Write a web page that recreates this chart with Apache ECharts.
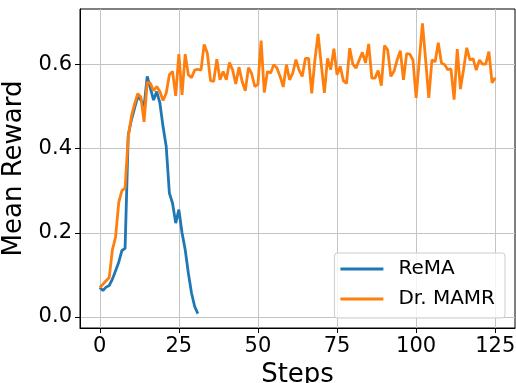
<!DOCTYPE html>
<html>
<head>
<meta charset="utf-8">
<script src="https://cdn.jsdelivr.net/npm/echarts@6/dist/echarts.min.js"></script>
<style>
  html, body { margin: 0; padding: 0; background: #fff; }
  #chart { width: 516px; height: 383px; }
</style>
</head>
<body>
<div id="chart"></div>
<script>
// 各曲线数据（按 step 0,1,2... 排列）
const remaReward = [
  0.070, 0.063, 0.071, 0.075, 0.090, 0.110, 0.130, 0.158, 0.163, 0.432,
  0.468, 0.496, 0.523, 0.515, 0.500, 0.571, 0.543, 0.515, 0.535, 0.508,
  0.452, 0.405, 0.294, 0.270, 0.223, 0.255, 0.200, 0.160, 0.104, 0.057,
  0.025, 0.008,
];
const mamrReward = [
  0.070, 0.078, 0.086, 0.094, 0.160, 0.190, 0.272, 0.300, 0.306, 0.428,
  0.476, 0.506, 0.530, 0.522, 0.463, 0.557, 0.555, 0.537, 0.547, 0.535,
  0.514, 0.531, 0.575, 0.583, 0.525, 0.624, 0.527, 0.624, 0.575, 0.568,
  0.586, 0.588, 0.586, 0.647, 0.626, 0.561, 0.559, 0.612, 0.563, 0.583,
  0.563, 0.604, 0.586, 0.553, 0.593, 0.559, 0.537, 0.592, 0.578, 0.547,
  0.552, 0.656, 0.533, 0.583, 0.579, 0.599, 0.591, 0.571, 0.546, 0.599,
  0.563, 0.579, 0.611, 0.586, 0.571, 0.614, 0.614, 0.531, 0.610, 0.672,
  0.600, 0.532, 0.614, 0.587, 0.637, 0.575, 0.595, 0.561, 0.554, 0.638,
  0.600, 0.591, 0.610, 0.628, 0.603, 0.648, 0.567, 0.567, 0.585, 0.549,
  0.644, 0.634, 0.571, 0.583, 0.610, 0.632, 0.563, 0.625, 0.624, 0.610,
  0.520, 0.610, 0.697, 0.610, 0.520, 0.610, 0.606, 0.651, 0.603, 0.599,
  0.587, 0.589, 0.516, 0.636, 0.541, 0.588, 0.639, 0.610, 0.613, 0.586,
  0.610, 0.600, 0.600, 0.630, 0.556, 0.568,
];
const xTicks = [0, 25, 50, 75, 100, 125];
const yTicks = [0.0, 0.2, 0.4, 0.6];
const seriesNames = ['ReMA', 'Dr. MAMR'];

const FONT = 'DejaVu Sans';

// step 作为 x 值
function toPoints(arr) {
  return arr.map((v, i) => [i, v]);
}

const option = {
  animation: false,
  backgroundColor: '#fff',
  textStyle: { fontFamily: FONT, color: '#000' },
  grid: {
    left: 80,
    right: 1,
    top: 9,
    bottom: 55,
    containLabel: false,
    outerBoundsMode: 'none',
    show: true,
    borderColor: '#000',
    borderWidth: 1,
    backgroundColor: 'transparent',
  },
  legend: {
    orient: 'vertical',
    right: 11,
    top: 253,
    padding: [6, 10, 9, 6],
    itemGap: 10,
    itemWidth: 43,
    itemHeight: 3,
    icon: 'rect',
    backgroundColor: 'rgba(255,255,255,0.8)',
    borderColor: '#cccccc',
    borderWidth: 1,
    borderRadius: 3,
    textStyle: {
      fontFamily: FONT,
      fontSize: 20,
      color: '#000',
      padding: [0, 0, 0, 10],
    },
    data: seriesNames,
  },
  xAxis: {
    type: 'value',
    min: -6.25,
    max: 131.25,
    name: 'Steps',
    nameLocation: 'middle',
    nameGap: 28,
    nameTextStyle: { fontFamily: FONT, fontSize: 26, color: '#000' },
    axisLine: { show: true, onZero: false, lineStyle: { color: '#000', width: 1 } },
    axisTick: {
      show: true,
      length: 5,
      customValues: xTicks,
      lineStyle: { color: '#000', width: 1 },
    },
    axisLabel: {
      show: true,
      margin: 8,
      customValues: xTicks,
      fontFamily: FONT,
      fontSize: 21,
      color: '#000',
    },
    splitLine: { show: true, lineStyle: { color: '#c4c4c4', width: 1 } },
  },
  yAxis: {
    type: 'value',
    min: -0.026,
    max: 0.731,
    name: 'Mean Reward',
    nameLocation: 'middle',
    nameGap: 45,
    nameTextStyle: { fontFamily: FONT, fontSize: 26, color: '#000' },
    axisLine: { show: true, onZero: false, lineStyle: { color: '#000', width: 1 } },
    axisTick: {
      show: true,
      length: 5,
      customValues: yTicks,
      lineStyle: { color: '#000', width: 1 },
    },
    axisLabel: {
      show: true,
      margin: 8,
      customValues: yTicks,
      fontFamily: FONT,
      fontSize: 21,
      color: '#000',
      formatter: (v) => v.toFixed(1),
    },
    splitLine: { show: true, lineStyle: { color: '#c4c4c4', width: 1 } },
  },
  series: [
    {
      name: seriesNames[0],
      type: 'line',
      showSymbol: false,
      symbol: 'none',
      data: toPoints(remaReward),
      itemStyle: { color: '#1f77b4' },
      lineStyle: { color: '#1f77b4', width: 2.8 },
    },
    {
      name: seriesNames[1],
      type: 'line',
      showSymbol: false,
      symbol: 'none',
      data: toPoints(mamrReward),
      itemStyle: { color: '#ff7f0e' },
      lineStyle: { color: '#ff7f0e', width: 2.8 },
    },
  ],
};

const myChart = echarts.init(document.getElementById('chart'), null, { renderer: 'canvas' });
myChart.setOption(option);
</script>
</body>
</html>
